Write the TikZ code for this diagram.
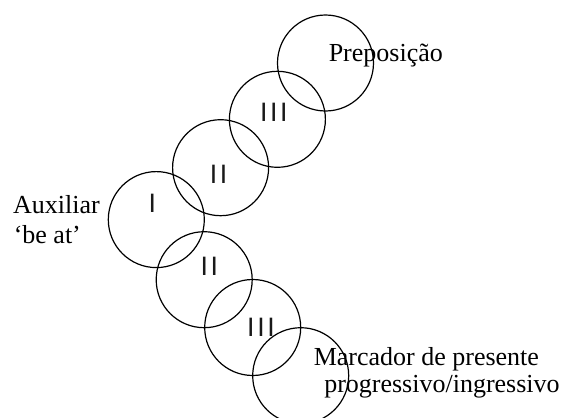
\documentclass[tikz,border=0pt]{standalone}
\usepackage{fontspec}
\setmainfont{Liberation Serif}
\newfontfamily\barfont{Liberation Sans}
\begin{document}
\begin{tikzpicture}[x=0.75pt,y=-0.75pt,
  ring/.style={draw, line width=0.9pt, circle, minimum size=72pt, inner sep=0pt},
  word/.style={anchor=base west, inner sep=0pt, font=\fontsize{19.5pt}{22.5pt}\selectfont},
  bars/.style={anchor=center, inner sep=0pt, text=black!90, font=\barfont\fontsize{20pt}{22pt}\selectfont}]
\useasboundingbox (0,0) rectangle (569,418);
\node[ring] (cP) at (325.5,63) {};
\node[ring] (cIIIa) at (277.4,119.3) {};
\node[ring] (cIIa) at (220.6,167.7) {};
\node[ring] (cI) at (156.3,219.6) {};
\node[ring] (cIIb) at (204.2,279.7) {};
\node[ring] (cIIIb) at (252.7,327.5) {};
\node[ring] (cM) at (300.7,375.7) {};
\node[bars] (lIIIa) at (273.8,112) {I\kern2pt I\kern2pt I};
\node[bars] (lIIa) at (218.5,174) {I\kern2pt I};
\node[bars] (lI) at (152.3,203) {I};
\node[bars] (lIIb) at (209.3,266) {I\kern2pt I};
\node[bars] (lIIIb) at (261,327) {I\kern2pt I\kern2pt I};
\node[word] (tP) at (328.5,61) {Preposição};
\node[word] (tA1) at (12.8,213.3) {Auxiliar};
\node[word] (tA2) at (13.5,243.3) {‘be at’};
\node[word] (tM1) at (313.5,365) {Marcador de presente};
\node[word] (tM2) at (324,392.5) {progressivo/ingressivo};
\end{tikzpicture}
\end{document}
